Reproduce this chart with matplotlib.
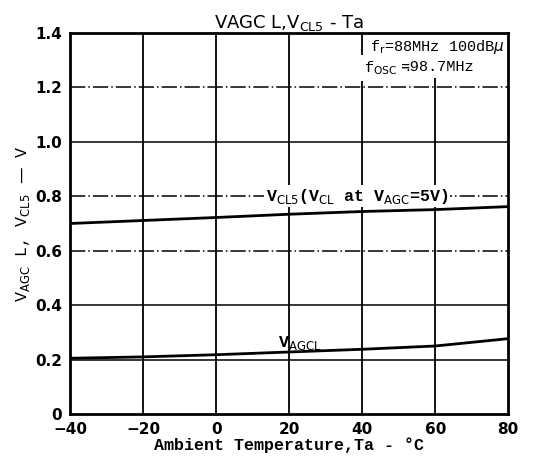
import matplotlib
matplotlib.use("Agg")
import matplotlib.pyplot as plt

# Readings (Ta in degC, voltage in V)
ta = [-40, -20, 0, 20, 40, 60, 80]
v_cl5 = [0.700, 0.711, 0.722, 0.734, 0.744, 0.751, 0.762]
v_agcl = [0.205, 0.210, 0.218, 0.228, 0.238, 0.250, 0.277]

x_ticks = [-40, -20, 0, 20, 40, 60, 80]
y_ticks = [0, 0.2, 0.4, 0.6, 0.8, 1.0, 1.2, 1.4]
y_tick_labels = ["0", "0.2", "0.4", "0.6", "0.8", "1.0", "1.2", "1.4"]

fig = plt.figure(figsize=(5.53, 4.70), dpi=100)
ax = fig.add_axes([0.127, 0.119, 0.792, 0.811])

# grid: some lines in the scan are dash-dot, the rest solid
for x in x_ticks[1:-1]:
    ax.axvline(x, color="black", lw=1.3, zorder=1)
for y in y_ticks[1:-1]:
    ls = (0, (10, 2, 1, 2)) if y in (0.6, 0.8, 1.2) else "-"
    ax.axhline(y, color="black", lw=1.1, ls=ls, zorder=1)

ax.plot(ta, v_cl5, color="black", lw=2.0, zorder=3)
ax.plot(ta, v_agcl, color="black", lw=2.0, zorder=3)

mono = ["Liberation Mono", "DejaVu Sans", "Noto Sans CJK JP"]
ax.text(38.6, 0.80, r"V$_{\mathrm{CL5}}$(V$_{\mathrm{CL}}$ at V$_{\mathrm{AGC}}$=5V)",
        ha="center", va="center", fontsize=12, family=mono, weight="bold",
        bbox=dict(facecolor="white", edgecolor="none", pad=1), zorder=4)
ax.text(23, 0.26, r"V$_{\mathrm{AGCL}}$", ha="center", va="center",
        fontsize=12, family=mono, weight="bold", zorder=4)

ax.text(79.0, 1.38, r"f$_{\mathrm{r}}$=88MHz 100dB$\mu$", ha="right", va="top",
        fontsize=11, family=mono, zorder=4,
        bbox=dict(facecolor="white", edgecolor="none", pad=3))
fosc = ax.text(40.5, 1.27, r"f$_{\mathrm{OSC}}$", ha="left", va="center",
               fontsize=11, family=mono, zorder=4.5,
               bbox=dict(facecolor="white", edgecolor="none", pad=3))
ax.annotate("≒98.7MHz", xy=(1.0, 0.6), xycoords=fosc, ha="left", va="center",
            fontsize=11, family=mono, zorder=4,
            bbox=dict(facecolor="white", edgecolor="none", pad=3))

ax.set_xlim(-40, 80)
ax.set_ylim(0, 1.4)
ax.set_xticks(x_ticks)
ax.set_yticks(y_ticks)
ax.set_yticklabels(y_tick_labels)
ax.tick_params(length=0, pad=6, labelsize=11)
for lab in ax.get_xticklabels() + ax.get_yticklabels():
    lab.set_fontweight("bold")
for sp in ax.spines.values():
    sp.set_linewidth(2.0)
    sp.set_zorder(6)

ax.set_title(r"VAGC L,V$_{\mathrm{CL5}}$ - Ta", fontsize=13, pad=3)
ax.set_xlabel("Ambient Temperature,Ta - °C", fontsize=12, family=mono,
              weight="bold", labelpad=0)
ax.set_ylabel(r"V$_{\mathrm{AGC}}$ L, V$_{\mathrm{CL5}}$ — V", fontsize=12,
              family=mono, labelpad=2)

fig.savefig("out.png", dpi=100)
